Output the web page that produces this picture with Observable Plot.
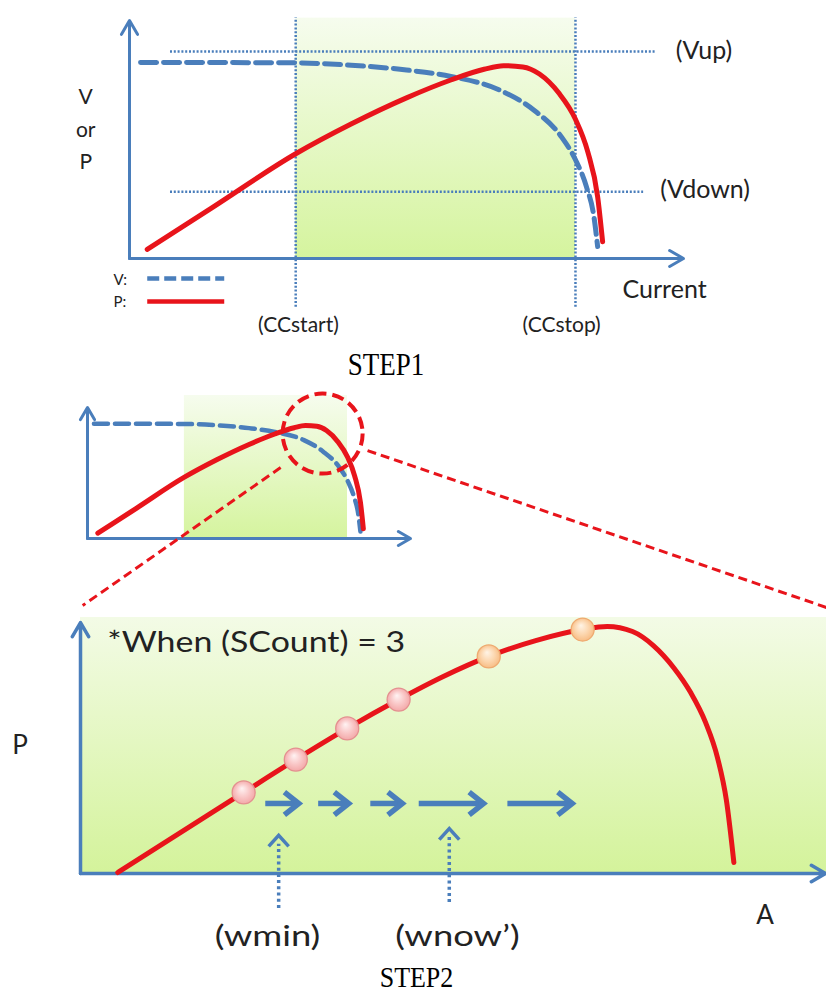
<!DOCTYPE html>
<html>
<head>
<meta charset="utf-8">
<script src="https://cdn.jsdelivr.net/npm/d3@7"></script>
<script src="https://cdn.jsdelivr.net/npm/@observablehq/plot@0.6"></script>
<style>
  html, body { margin: 0; padding: 0; background: #fff; }
  #wrap { position: relative; width: 826px; height: 996px; overflow: hidden; background: #fff; }
</style>
</head>
<body>
<div id="wrap"></div>
<script>
// ---------------- DATA ----------------
// STEP1 (units: current 0..10, V/P 0..10)
const ccLabels = ["(CCstart)", "(CCstop)"];
const ccValues = [3.0, 8.05];
const vLevelLabels = ["(Vup)", "(Vdown)"];
const vLevels = [8.7, 2.8];
const vCurveX = [0.2, 3.0, 4.0, 5.0, 5.8, 6.7, 7.29, 7.8, 8.05, 8.25, 8.38, 8.45];
const vCurveY = [8.24, 8.22, 8.12, 7.92, 7.65, 7.06, 6.25, 5.1, 4.15, 3.0, 1.8, 0.5];
const pCurveX = [0.32, 1.5, 3.0, 4.0, 5.0, 5.8, 6.4, 6.75, 7.1, 7.4, 7.75, 8.05, 8.27, 8.45, 8.54];
const pCurveY = [0.38, 2.15, 4.40, 5.65, 6.75, 7.50, 7.95, 8.10, 8.05, 7.75, 6.95, 5.85, 4.50, 2.60, 0.70];
const yAxisLabel1 = ["V", "or", "P"];
const legendLabels = ["V:", "P:"];
const xAxisLabel1 = "Current";
const step1Title = "STEP1";

// STEP2 small overview: zoom circle centre (units of small panel)
const zoomCenter = [7.28, 7.53];

// STEP2 zoomed P curve (units: A 0..10, P 0..10)
const bigPX = [0.50, 2.19, 2.89, 3.58, 4.27, 4.87, 5.48, 6.11, 6.74, 7.07, 7.41, 7.69, 7.96, 8.19, 8.39, 8.55, 8.67, 8.77];
const bigPY = [0.04, 3.23, 4.54, 5.78, 6.93, 7.85, 8.65, 9.28, 9.72, 9.84, 9.64, 9.08, 8.21, 7.21, 6.02, 4.62, 2.91, 0.44];
const samplePinkX = [2.19, 2.89, 3.58, 4.27];
const samplePinkY = [3.23, 4.54, 5.78, 6.93];
const sampleOrangeX = [5.48, 6.74];
const sampleOrangeY = [8.65, 9.72];
const stepArrowFrom = [2.48, 3.19, 3.89, 4.54, 5.73];
const stepArrowTo = [2.93, 3.60, 4.32, 5.41, 6.60];
const stepArrowLevel = 2.79;
const windowLabels = ["(wmin)", "(wnow’)"];
const windowX = [2.66, 4.95];
const windowLabelX = [2.51, 5.06];
const windowBottom = [-1.39, -1.16];
const windowTip = [1.52, 1.79];
const countText = "*When (SCount) = 3";
const step2Title = "STEP2";

// ---------------- STYLE ----------------
const blue = "#4a7ebb";
const red = "#e8141b";
const sans = "Lato, 'Open Sans', sans-serif";
const serif = "'Liberation Serif', 'DejaVu Serif', serif";
const wrap = document.getElementById("wrap");
const NS = "http://www.w3.org/2000/svg";

function addDefs(svg, html) {
  const d = document.createElementNS(NS, "defs");
  d.innerHTML = html;
  svg.insertBefore(d, svg.firstChild);
}
function place(svg, top) {
  svg.style.position = "absolute";
  svg.style.left = "0px";
  svg.style.top = top + "px";
  svg.style.overflow = "visible";
  svg.style.background = "transparent";
  wrap.appendChild(svg);
}
// stretch a rendered label (font-width compensation)
function stretch(svg, label, sx, sy) {
  svg.querySelectorAll("text").forEach(t => {
    if (t.textContent === label) {
      const tr = t.getAttribute("transform") || "";
      t.setAttribute("transform", tr + ` scale(${sx},${sy})`);
    }
  });
}
const chevUp = { draw(ctx, size) { const r = Math.sqrt(size / Math.PI); ctx.moveTo(-r, r * 1.1); ctx.lineTo(0, 0); ctx.lineTo(r, r * 1.1); } };
const chevRight = { draw(ctx, size) { const r = Math.sqrt(size / Math.PI); ctx.moveTo(-r * 1.2, -r * 0.95); ctx.lineTo(0, 0); ctx.lineTo(-r * 1.2, r * 0.95); } };

const pts = (xs, ys) => xs.map((x, i) => ({x, y: ys[i]}));

// ---------------- STEP1 ----------------
const p1 = Plot.plot({
  width: 826, height: 380,
  marginLeft: 129, marginRight: 143, marginTop: 20, marginBottom: 122,
  x: {domain: [0, 10], axis: null},
  y: {domain: [0, 10], axis: null},
  marks: [
    Plot.rect([{a: ccValues[0], b: ccValues[1]}], {x1: "a", x2: "b", y1: 0, y2: 10.1, fill: "url(#gGreen1)"}),
    Plot.ruleX(ccValues, {x: d => d, y1: -2.05, y2: 10.1, stroke: blue, strokeWidth: 2.5, strokeDasharray: "2,1.8"}),
    Plot.ruleY(vLevels.map((v, i) => ({v, end: [9.5, 9.28][i]})), {y: "v", x1: 0.74, x2: "end", stroke: blue, strokeWidth: 2.5, strokeDasharray: "2,1.8"}),
    Plot.arrow([{x1: 0, y1: 0, x2: 0, y2: 10}, {x1: 0, y1: 0, x2: 10, y2: 0}], {x1: "x1", y1: "y1", x2: "x2", y2: "y2", stroke: blue, strokeWidth: 3}),
    Plot.line(pts(vCurveX, vCurveY), {x: "x", y: "y", curve: "monotone-x", stroke: blue, strokeWidth: 5, strokeDasharray: "16,7"}),
    Plot.line(pts(pCurveX, pCurveY), {x: "x", y: "y", curve: "monotone-x", stroke: red, strokeWidth: 5}),
    // legend
    Plot.link([{y: -0.84}], {x1: 0.32, x2: 1.71, y1: "y", y2: "y", stroke: blue, strokeWidth: 4.5, strokeDasharray: "12,5"}),
    Plot.link([{y: -1.81}], {x1: 0.32, x2: 1.71, y1: "y", y2: "y", stroke: red, strokeWidth: 4.5}),
    Plot.text(legendLabels, {x: -0.29, y: (d, i) => [-0.92, -1.85][i], text: d => d, textAnchor: "start", fontSize: 15, fontFamily: sans, fill: "#222"}),
    // labels
    Plot.text(yAxisLabel1, {x: -0.79, y: (d, i) => [6.76, 5.38, 4.03][i], text: d => d, fontSize: 21, fontFamily: sans, fill: "#222"}),
    Plot.text(vLevelLabels, {x: (d, i) => [9.86, 9.58][i], y: (d, i) => [8.7, 2.86][i], text: d => d, textAnchor: "start", fontSize: 25, fontFamily: sans, fill: "#222"}),
    Plot.text(ccLabels, {x: (d, i) => [3.05, 7.8][i], y: -2.82, text: d => d, fontSize: 21, fontFamily: sans, fill: "#222"}),
    Plot.text([xAxisLabel1], {x: 8.9, y: -1.34, text: d => d, textAnchor: "start", fontSize: 25, fontFamily: sans, fill: "#222"}),
    Plot.text([step1Title], {x: 4.63, y: -4.45, text: d => d, fontSize: 27, fontFamily: serif, fill: "#000"})
  ]
});
addDefs(p1, `
  <linearGradient id="gGreen1" x1="0" y1="0" x2="0" y2="1">
    <stop offset="0" stop-color="#f6fcee"/><stop offset="1" stop-color="#d5f49e"/>
  </linearGradient>
  <linearGradient id="gGreen2" x1="0" y1="0" x2="0" y2="1">
    <stop offset="0" stop-color="#f3fbe6"/><stop offset="1" stop-color="#d4f39b"/>
  </linearGradient>
  <radialGradient id="gPink" cx="0.5" cy="0.5" r="0.55" fx="0.42" fy="0.32">
    <stop offset="0" stop-color="#fff3f3"/><stop offset="0.55" stop-color="#f9c6c6"/><stop offset="1" stop-color="#f2a4a4"/>
  </radialGradient>
  <radialGradient id="gOrange" cx="0.5" cy="0.5" r="0.55" fx="0.42" fy="0.32">
    <stop offset="0" stop-color="#fff4e6"/><stop offset="0.55" stop-color="#fcd6ae"/><stop offset="1" stop-color="#f7b97e"/>
  </radialGradient>`);
stretch(p1, step1Title, 1, 1.2);
place(p1, 0);

// ---------------- STEP2 small overview ----------------
const p2 = Plot.plot({
  width: 826, height: 230,
  marginLeft: 87, marginRight: 416, marginTop: 27, marginBottom: 72,
  x: {domain: [0, 10], axis: null},
  y: {domain: [0, 9.4], axis: null},
  marks: [
    Plot.rect([{a: ccValues[0], b: ccValues[1]}], {x1: "a", x2: "b", y1: 0, y2: 10.26, fill: "url(#gGreen1)"}),
    Plot.arrow([{x1: 0, y1: 0, x2: 0, y2: 9.4}, {x1: 0, y1: 0, x2: 10, y2: 0}], {x1: "x1", y1: "y1", x2: "x2", y2: "y2", stroke: blue, strokeWidth: 3, headLength: 7}),
    Plot.line(pts(vCurveX, vCurveY), {x: "x", y: "y", curve: "monotone-x", stroke: blue, strokeWidth: 4.5, strokeDasharray: "14,7"}),
    Plot.line(pts(pCurveX, pCurveY), {x: "x", y: "y", curve: "monotone-x", stroke: red, strokeWidth: 5}),
    Plot.dot([zoomCenter], {x: d => d[0], y: d => d[1], r: 40, fill: "none", stroke: red, strokeWidth: 4, strokeDasharray: "12,6"}),
    Plot.link([{x1: 5.98, y1: 5.09, x2: -0.15, y2: -4.81}, {x1: 8.67, y1: 6.31, x2: 22.88, y2: -4.95}],
      {x1: "x1", y1: "y1", x2: "x2", y2: "y2", stroke: red, strokeWidth: 3, strokeDasharray: "9,5"})
  ]
});
place(p2, 380);

// ---------------- STEP2 zoomed ----------------
const p3 = Plot.plot({
  width: 826, height: 400,
  marginLeft: 80, marginRight: 1, marginTop: 26, marginBottom: 123,
  x: {domain: [0, 10], axis: null},
  y: {domain: [0, 10], axis: null},
  marks: [
    Plot.rect([{a: 0, b: 10.02}], {x1: "a", x2: "b", y1: 0, y2: 10.2, fill: "url(#gGreen2)"}),
    Plot.arrow([{x1: 0, y1: 0, x2: 0, y2: 10}, {x1: 0, y1: 0, x2: 10, y2: 0}], {x1: "x1", y1: "y1", x2: "x2", y2: "y2", stroke: blue, strokeWidth: 3.5, headLength: 7}),
    Plot.line(pts(bigPX, bigPY), {x: "x", y: "y", curve: "monotone-x", stroke: red, strokeWidth: 5}),
    Plot.dot(pts(samplePinkX, samplePinkY), {x: "x", y: "y", r: 11.5, fill: "url(#gPink)", stroke: "#e49090", strokeWidth: 1.3}),
    Plot.dot(pts(sampleOrangeX, sampleOrangeY), {x: "x", y: "y", r: 11.5, fill: "url(#gOrange)", stroke: "#eeaa70", strokeWidth: 1.3}),
    // step arrows
    Plot.link(stepArrowFrom.map((a, i) => ({a, b: stepArrowTo[i]})), {x1: "a", x2: d => d.b - 0.05, y1: stepArrowLevel, y2: stepArrowLevel, stroke: blue, strokeWidth: 5.5}),
    Plot.dot(stepArrowTo, {x: d => d, y: stepArrowLevel, r: 12, symbol: chevRight, fill: "none", stroke: blue, strokeWidth: 5.5, strokeLinejoin: "miter"}),
    // window markers
    Plot.ruleX(windowX.map((x, i) => ({x, y1: windowBottom[i], y2: windowTip[i] - 0.35})), {x: "x", y1: "y1", y2: "y2", stroke: blue, strokeWidth: 3.5, strokeDasharray: "3,3.2"}),
    Plot.dot(windowX.map((x, i) => ({x, y: windowTip[i]})), {x: "x", y: "y", r: 10, symbol: chevUp, fill: "none", stroke: blue, strokeWidth: 3.5}),
    // texts
    Plot.text([countText], {x: 0.36, y: 9.2, text: d => d, textAnchor: "start", fontSize: 28, fontFamily: sans, fill: "#222"}),
    Plot.text(["P"], {x: -0.81, y: 5.1, text: d => d, fontSize: 26, fontFamily: sans, fill: "#222"}),
    Plot.text(["A"], {x: 9.19, y: -1.67, text: d => d, fontSize: 26, fontFamily: sans, fill: "#222"}),
    Plot.text(windowLabels, {x: (d, i) => windowLabelX[i], y: -2.55, text: d => d, fontSize: 28, fontFamily: sans, fill: "#222"}),
    Plot.text([step2Title], {x: 4.51, y: -4.15, text: d => d, fontSize: 26, fontFamily: serif, fill: "#000"})
  ]
});
stretch(p3, countText, 1.21, 1);
stretch(p3, windowLabels[0], 1.3, 1);
stretch(p3, windowLabels[1], 1.3, 1);
stretch(p3, step2Title, 1, 1.15);
place(p3, 596);
</script>
</body>
</html>
